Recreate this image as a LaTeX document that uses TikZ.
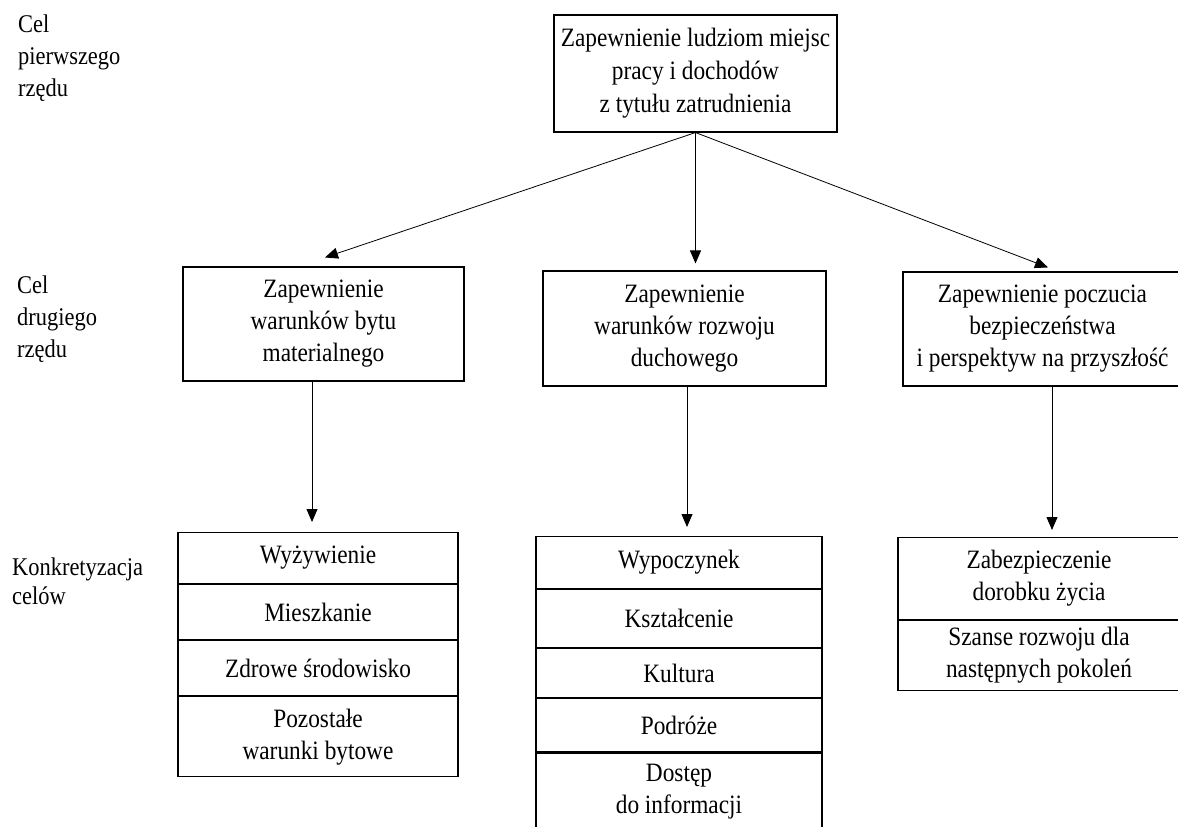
\documentclass[tikz,border=0pt]{standalone}
\usepackage{fontspec}
\setmainfont{Liberation Serif}[FakeStretch=0.88]
\usetikzlibrary{arrows.meta,calc}
\begin{document}
\begin{tikzpicture}[x=1pt,y=-1pt,
  box/.style={draw, line width=1.1pt, inner sep=0pt, align=center,
    font=\fontsize{26.5}{32}\selectfont},
  cell/.style={box, anchor=north},
  lbl/.style={anchor=north west, align=left, inner sep=0pt,
    font=\fontsize{25.5}{32}\selectfont},
  arr/.style={line width=0.8pt, -{Triangle[length=13pt,width=11pt]}}]
\useasboundingbox (0,0) rectangle (1178,827);

% left labels
\node[lbl] (l1txt) at (18,15) {Cel\\pierwszego\\rzędu};
\node[lbl] (l2txt) at (17,276) {Cel\\drugiego\\rzędu};
\node[lbl, font=\fontsize{25.5}{29}\selectfont] (l3txt) at (12,558) {Konkretyzacja\\celów};

% top
\node[box, minimum width=283pt, minimum height=117pt,
  font=\fontsize{26.5}{33}\selectfont] (top) at (695.5,73.5)
  {Zapewnienie ludziom miejsc\\pracy i dochodów\\z tytułu zatrudnienia};

% second row
\node[box, minimum width=281pt, minimum height=114pt] (lb) at (323.5,324)
  {Zapewnienie\\warunków bytu\\materialnego};
\node[box, minimum width=283pt, minimum height=115pt] (mb) at (684.5,328.5)
  {Zapewnienie\\warunków rozwoju\\duchowego};
\node[box, minimum width=279pt, minimum height=114pt] (rb) at (1042.5,329)
  {Zapewnienie poczucia\\bezpieczeństwa\\i perspektyw na przyszłość};

% bottom left
\node[cell, minimum width=280pt, minimum height=51pt] (a1) at (318,532) {Wyżywienie};
\node[cell, minimum width=280pt, minimum height=55pt] (a2) at (a1.south) {Mieszkanie};
\node[cell, minimum width=280pt, minimum height=55pt] (a3) at (a2.south) {Zdrowe środowisko};
\node[cell, minimum width=280pt, minimum height=80pt] (a4) at (a3.south) {Pozostałe\\warunki bytowe};

% bottom middle
\node[cell, minimum width=286pt, minimum height=52pt] (b1) at (679,536) {Wypoczynek};
\node[cell, minimum width=286pt, minimum height=58pt] (b2) at (b1.south) {Kształcenie};
\node[cell, minimum width=286pt, minimum height=49pt] (b3) at (b2.south) {Kultura};
\node[cell, minimum width=286pt, minimum height=53pt] (b4) at (b3.south) {Podróże};
\node[cell, minimum width=286pt, minimum height=77pt] (b5) at (b4.south) {Dostęp\\do informacji};

% bottom right
\node[cell, minimum width=282pt, minimum height=82pt] (c1) at (1039,537) {Zabezpieczenie\\dorobku życia};
\node[cell, minimum width=282pt, minimum height=70pt] (c2) at (c1.south) {Szanse rozwoju dla\\następnych pokoleń};

% arrows from top
\coordinate (tl) at ($(lb.north)+(1.5,-9)$);
\coordinate (tm) at ($(top.south |- mb.north)+(0,-7)$);
\coordinate (tr) at ($(rb.north)+(5.5,-4)$);
\draw[arr] (top.south) -- (tl);
\draw[arr] (top.south) -- (tm);
\draw[arr] (top.south) -- (tr);

% arrows down
\coordinate (dl) at ($(a1.north)+(-6,-10)$);
\coordinate (dm) at ($(b1.north)+(8,-9)$);
\coordinate (dr) at ($(c1.north)+(13,-7)$);
\draw[arr] (lb.south -| dl) -- (dl);
\draw[arr] (mb.south -| dm) -- (dm);
\draw[arr] (rb.south -| dr) -- (dr);
\end{tikzpicture}
\end{document}
